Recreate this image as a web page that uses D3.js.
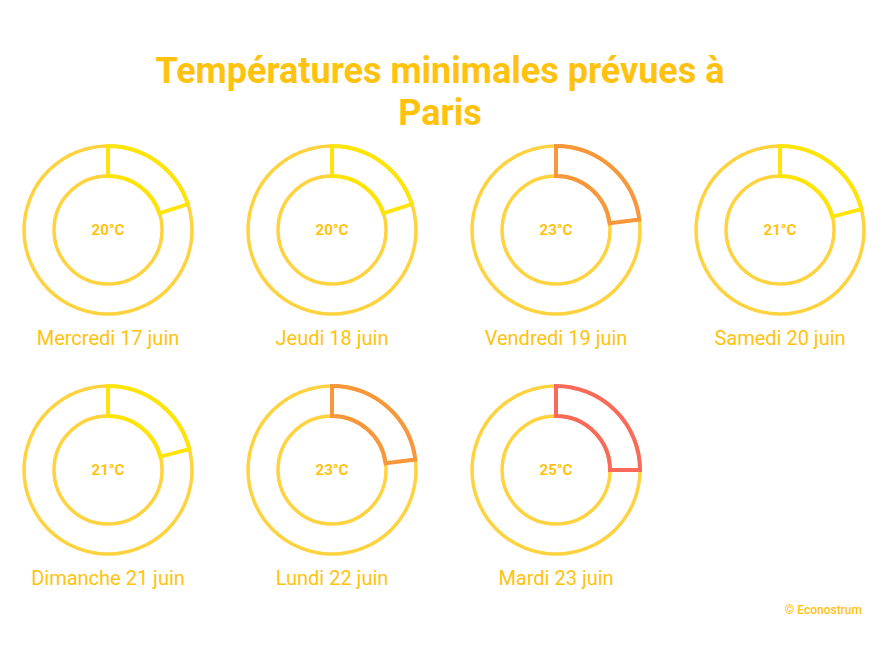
<!DOCTYPE html>
<html>
<head>
<meta charset="utf-8">
<script src="https://cdn.jsdelivr.net/npm/d3@7"></script>
<style>
  body { margin: 0; background: #fff; font-family: Roboto, sans-serif; }
</style>
</head>
<body>
<div id="chart"></div>
<script>
const days = ["Mercredi 17 juin", "Jeudi 18 juin", "Vendredi 19 juin", "Samedi 20 juin",
              "Dimanche 21 juin", "Lundi 22 juin", "Mardi 23 juin"];
const temps = [20, 20, 23, 21, 21, 23, 25];
const tempMax = 100;
const colorBreaks = [22, 24];
const colorList = ["#ffe40a", "#f7963a", "#f96a5a"];

const width = 889, height = 667;
const textColor = "#ffc20e";
const ringColor = "#ffd23f";

const svg = d3.select("#chart").append("svg")
  .attr("width", width)
  .attr("height", height);

// title
svg.append("text")
  .attr("text-anchor", "middle")
  .attr("x", 440).attr("y", 83)
  .style("font-size", "36px").style("font-weight", "bold")
  .attr("fill", textColor)
  .text("Températures minimales prévues à");
svg.append("text")
  .attr("text-anchor", "middle")
  .attr("x", 440).attr("y", 125)
  .style("font-size", "36px").style("font-weight", "bold")
  .attr("fill", textColor)
  .text("Paris");

const cols = 4;
const x = d3.scaleBand().domain(d3.range(cols)).range([-4, 892]);
const y = d3.scaleBand().domain([0, 1]).range([110, 590]);
const angle = d3.scaleLinear().domain([0, tempMax]).range([0, 2 * Math.PI]);
const color = d3.scaleThreshold().domain(colorBreaks).range(colorList);

const rOuter = 84, rInner = 54;
const arc = d3.arc().innerRadius(rInner).outerRadius(rOuter).startAngle(0);

const g = svg.selectAll("g.gauge")
  .data(temps.map((t, i) => ({t, day: days[i], i})))
  .enter().append("g")
  .attr("class", "gauge")
  .attr("transform", d => `translate(${x(d.i % cols) + x.bandwidth() / 2},${y(Math.floor(d.i / cols)) + 120})`);

g.append("circle").attr("r", rOuter)
  .attr("fill", "none").attr("stroke", ringColor).attr("stroke-width", 3.5);
g.append("circle").attr("r", rInner)
  .attr("fill", "none").attr("stroke", ringColor).attr("stroke-width", 3.5);

g.append("path")
  .attr("d", d => arc({endAngle: angle(d.t)}))
  .attr("fill", "none")
  .attr("stroke", d => color(d.t))
  .attr("stroke-width", 4);

g.append("text")
  .attr("text-anchor", "middle")
  .attr("dy", "0.35em")
  .style("font-size", "15px").style("font-weight", "bold")
  .attr("fill", textColor)
  .text(d => d.t + "°C");

g.append("text")
  .attr("text-anchor", "middle")
  .attr("y", 115)
  .style("font-size", "20px")
  .attr("fill", textColor)
  .text(d => d.day);

svg.append("text")
  .attr("text-anchor", "end")
  .attr("x", 862).attr("y", 614)
  .style("font-size", "12px").style("font-weight", 500)
  .attr("fill", textColor)
  .text("© Econostrum");
</script>
</body>
</html>
